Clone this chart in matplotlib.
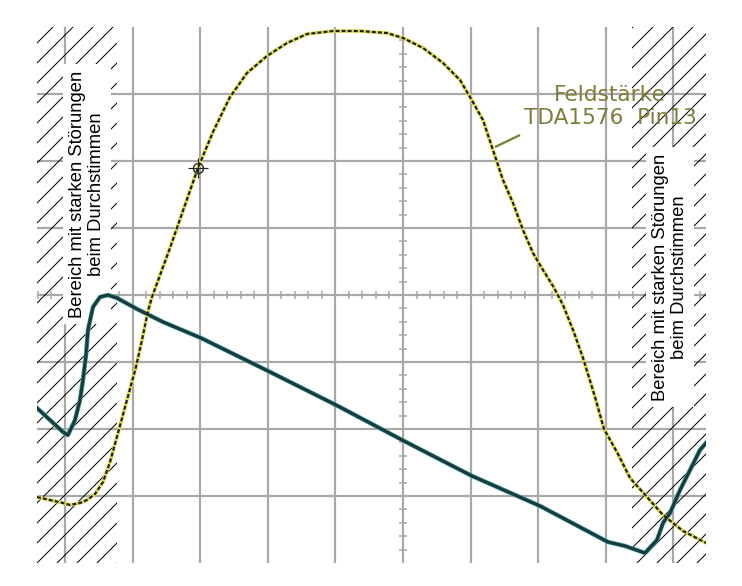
import matplotlib
matplotlib.use("Agg")
import matplotlib.pyplot as plt
import numpy as np

# scope screen in divisions, centre of the graticule at (0, 0)
feld_x = [-5.414, -5.222, -5.030, -4.926, -4.778, -4.675, -4.556, -4.438, -4.334, -4.216,
          -4.083, -3.950, -3.861, -3.772, -3.713, -3.447, -3.225, -3.033, -2.811, -2.559,
          -2.308, -2.012, -1.716, -1.420, -1.036, -0.636, -0.237, 0.0, 0.296, 0.592,
          0.843, 0.991, 1.183, 1.331, 1.479, 1.627, 1.775, 1.923, 2.071, 2.219,
          2.367, 2.515, 2.663, 2.840, 2.973, 3.180, 3.358, 3.609, 3.846, 4.142, 4.482]
feld_y = [-3.015, -3.060, -3.104, -3.134, -3.104, -3.060, -2.970, -2.791, -2.493, -2.060,
          -1.567, -1.075, -0.672, -0.239, -0.030, 0.701, 1.343, 1.896, 2.433, 2.955,
          3.313, 3.567, 3.761, 3.896, 3.940, 3.940, 3.910, 3.836, 3.687, 3.463,
          3.209, 2.955, 2.612, 2.164, 1.716, 1.373, 0.970, 0.627, 0.373, 0.134,
          -0.149, -0.522, -0.940, -1.522, -2.000, -2.373, -2.731, -3.015, -3.284, -3.522, -3.701]

ramp_x = [-5.414, -5.222, -5.030, -4.956, -4.852, -4.778, -4.734, -4.689, -4.660, -4.586,
          -4.482, -4.364, -4.231, -3.935, -3.550, -2.988, -1.997, -0.991, 0.015, 1.021,
          2.027, 3.033, 3.284, 3.580, 3.757, 3.846, 3.950, 4.098, 4.246, 4.393, 4.482]
ramp_y = [-1.687, -1.866, -2.045, -2.090, -1.866, -1.567, -1.269, -0.896, -0.522, -0.179,
          -0.030, 0.0, -0.045, -0.209, -0.403, -0.642, -1.134, -1.642, -2.179, -2.701,
          -3.149, -3.687, -3.746, -3.851, -3.657, -3.403, -3.254, -2.910, -2.612, -2.313, -2.209]

cursor_xy = (-3.033, 1.896)
pointer = [(1.361, 2.209), (1.731, 2.388)]

x_lim = (-5.414, 4.482)
y_lim = (-4.0, 4.0)
left_zone = (-5.414, -4.23)
right_zone = (3.388, 4.482)

label_feld = "Feldstärke\nTDA1576  Pin13"
label_zone = "Bereich mit starken Störungen\nbeim Durchstimmen"

plt.rcParams["hatch.linewidth"] = 0.6
plt.rcParams["hatch.color"] = "black"

DPI = 120
fig = plt.figure(figsize=(742 / DPI, 586 / DPI), dpi=DPI, facecolor="white")
ax = fig.add_axes([37 / 742, 23 / 586, 669 / 742, 536 / 586])
ax.set_xlim(*x_lim)
ax.set_ylim(*y_lim)
ax.axis("off")

grid_c = "#a8a8a8"
for gx in range(-5, 5):
    ax.axvline(gx, color=grid_c, lw=1.3, zorder=1)
for gy in range(-3, 4):
    ax.axhline(gy, color=grid_c, lw=1.3, zorder=1)

# small ticks on the centre lines
tx = np.arange(-27, 23) * 0.2
tx = tx[np.abs(tx - np.round(tx)) > 1e-6]
ax.plot(tx, np.zeros_like(tx), ls="none", marker="|", ms=4.5, mew=0.9, color=grid_c, zorder=1)
ty = np.arange(-20, 21) * 0.2
ty = ty[np.abs(ty - np.round(ty)) > 1e-6]
ax.plot(np.zeros_like(ty), ty, ls="none", marker="_", ms=4.5, mew=0.9, color=grid_c, zorder=1)

for lo, hi in (left_zone, right_zone):
    ax.axvspan(lo, hi, facecolor="none", edgecolor="black", hatch="//", lw=0, zorder=2)

box = dict(facecolor="white", edgecolor="none", pad=4)
for tx_pos, ty_pos in ((-4.675, 1.507), (3.95, 0.269)):
    ax.text(tx_pos, ty_pos, label_zone, rotation=90, ha="center", va="center",
            multialignment="center", fontsize=11, family="Liberation Sans",
            linespacing=1.1, bbox=box, zorder=3)

olive = "#7d7d3a"
ax.text(3.062, 2.813, label_feld, ha="center", va="center", multialignment="center",
        fontsize=13, family="DejaVu Sans", color=olive, linespacing=1.2, zorder=3)
ax.plot([pointer[0][0], pointer[1][0]], [pointer[0][1], pointer[1][1]],
        color=olive, lw=1.4, solid_capstyle="butt", zorder=4)

# traces
ax.plot(ramp_x, ramp_y, color="#3f9c9c", lw=2.7, zorder=5, solid_joinstyle="round")
ax.plot(ramp_x, ramp_y, color="#183a3a", lw=1.8, zorder=6, solid_joinstyle="round")
ax.plot(feld_x, feld_y, color="#dede55", lw=2.2, zorder=5, solid_joinstyle="round")
ax.plot(feld_x, feld_y, color="#1e1e10", lw=1.3, ls=(0, (1.8, 1.0)), zorder=6)

ax.plot(*cursor_xy, marker="o", ms=6, mfc="none", mec="#222222", mew=0.8, zorder=7)
ax.plot(*cursor_xy, marker="+", ms=12, mec="#222222", mew=0.7, zorder=7)

fig.savefig("out.png", dpi=DPI, facecolor="white")
